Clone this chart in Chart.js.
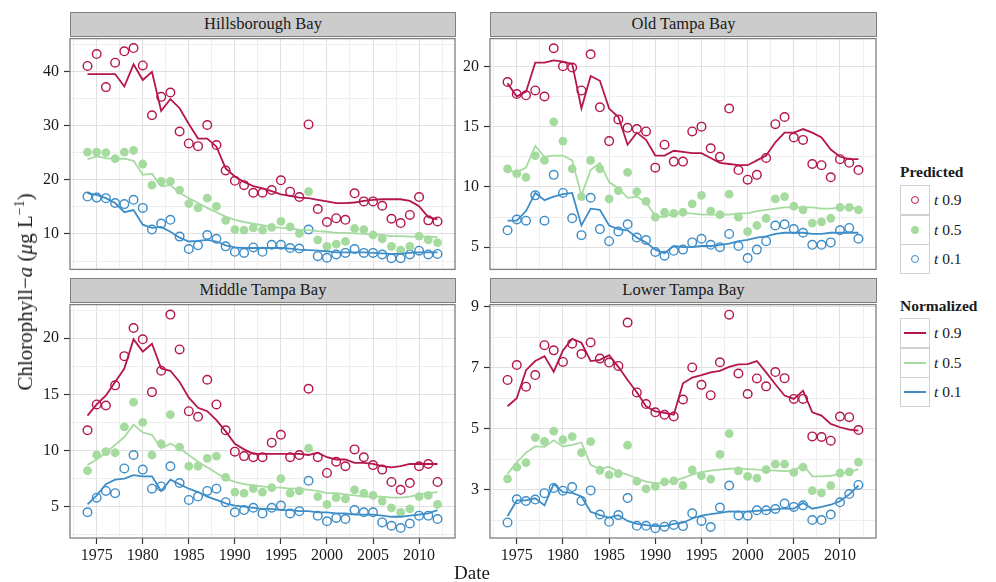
<!DOCTYPE html>
<html>
<head>
<meta charset="utf-8">
<script src="https://cdn.jsdelivr.net/npm/chart.js@4.4.1/dist/chart.umd.min.js"></script>
<style>
  body { margin: 0; background: #fff; font-family: "Liberation Serif", "Times New Roman", serif; color: #1a1a1a; }
  #wrap { position: relative; width: 996px; height: 582px; overflow: hidden; }
  canvas { position: absolute; }
  .strip { position: absolute; box-sizing: border-box; background: #cccccc; border: 1px solid #7f7f7f;
           text-align: center; font-size: 16.5px; line-height: 22px; z-index: 2; }
  .ttl { position: absolute; white-space: nowrap; z-index: 3; }
  .legTitle { position: absolute; left: 900px; font-weight: bold; font-size: 15.5px; }
  .key { position: absolute; left: 900px; width: 30px; height: 30px; box-sizing: border-box; border: 1px solid #d0d0d0; background: #fff; }
  .key .pt { position: absolute; left: 10px; top: 10px; width: 8px; height: 8px; box-sizing: border-box; border-radius: 50%; }
  .key .ln { position: absolute; left: 3px; top: 13px; width: 22px; height: 2px; }
  .lab { position: absolute; left: 934px; font-size: 15.5px; line-height: 30px; }
</style>
</head>
<body>
<div id="wrap">
  <canvas id="hb" width="443" height="260" style="left:20px;top:24px"></canvas>
  <canvas id="otb" width="444" height="260" style="left:440px;top:24px"></canvas>
  <canvas id="mtb" width="443" height="282" style="left:20px;top:290px"></canvas>
  <canvas id="ltb" width="444" height="282" style="left:440px;top:290px"></canvas>

  <div class="strip" style="left:70px;top:12px;width:386px;height:25px">Hillsborough Bay</div>
  <div class="strip" style="left:490px;top:12px;width:387px;height:25px">Old Tampa Bay</div>
  <div class="strip" style="left:70px;top:278px;width:386px;height:25px">Middle Tampa Bay</div>
  <div class="strip" style="left:490px;top:278px;width:387px;height:25px">Lower Tampa Bay</div>

  <div class="ttl" style="left:25px;top:292px;font-size:21px;transform:translate(-50%,-50%) rotate(-90deg)">Chlorophyll−<i>a</i> (<i>μ</i>g L<sup style="font-size:14px">−1</sup>)</div>
  <div class="ttl" style="left:472px;top:573px;font-size:19px;transform:translate(-50%,-50%)">Date</div>

  <div id="legend"></div>
</div>

<script>
const years = [];
for (let y = 1974; y <= 2012; y++) years.push(y);

const xTicks = [1975, 1980, 1985, 1990, 1995, 2000, 2005, 2010];
const xMinor = [1972.5, 1977.5, 1982.5, 1987.5, 1992.5, 1997.5, 2002.5, 2007.5, 2012.5];

const colors = { t90: '#b5144f', t50: '#a6dba0', t10: '#3d8dc8' };
const legendLabels = ['0.9', '0.5', '0.1'];

// Hillsborough Bay
const hbPred90 = [41.0, 43.2, 37.1, 41.6, 43.7, 44.3, 41.1, 31.9, 35.3, 36.1, 28.9, 26.7, 26.2, 30.1, 26.4, 21.7, 19.8, 19.0, 17.6, 17.6, 18.1, 19.9, 17.8, 16.8, 30.2, 14.6, 12.2, 12.9, 12.6, 17.5, 16.0, 16.0, 15.2, 12.8, 12.0, 13.5, 16.8, 12.5, 12.3];
const hbPred50 = [25.1, 25.1, 25.0, 23.9, 25.1, 25.4, 22.9, 19.0, 19.7, 19.7, 18.1, 15.6, 14.8, 16.6, 15.1, 12.5, 10.8, 10.7, 11.1, 10.7, 11.2, 12.3, 11.3, 10.1, 17.8, 8.9, 7.7, 8.1, 8.6, 11.0, 10.8, 9.8, 9.1, 7.7, 7.0, 7.7, 9.6, 8.9, 8.4];
const hbPred10 = [16.9, 16.7, 16.6, 15.7, 15.5, 16.3, 14.8, 10.8, 11.9, 12.6, 9.5, 7.2, 7.9, 9.8, 9.1, 7.7, 6.7, 6.5, 7.5, 6.7, 8.0, 8.0, 7.4, 7.3, 10.8, 5.9, 5.6, 6.2, 6.5, 7.2, 6.5, 6.5, 6.2, 5.5, 5.5, 6.2, 6.9, 6.2, 6.3];
const hbNorm90 = [39.5, 39.5, 39.5, 39.5, 37.2, 41.3, 38.4, 39.9, 32.7, 34.9, 33.2, 30.3, 27.6, 27.6, 26.1, 22.1, 20.6, 19.6, 18.8, 18.4, 17.9, 17.3, 17.0, 16.7, 16.6, 16.3, 16.0, 15.7, 15.7, 15.8, 16.1, 16.3, 16.4, 16.4, 16.4, 16.1, 15.1, 13.1, 12.7];
const hbNorm50 = [23.8, 24.3, 24.0, 23.8, 23.9, 23.5, 20.9, 21.1, 18.8, 19.0, 17.6, 16.6, 15.7, 14.8, 14.0, 13.2, 12.6, 12.2, 11.9, 11.6, 11.3, 11.1, 11.0, 10.8, 10.7, 10.5, 10.4, 10.2, 10.2, 10.1, 10.0, 9.9, 9.8, 9.6, 9.6, 9.5, 9.5, 9.5, 9.4];
const hbNorm10 = [17.5, 17.2, 16.6, 15.7, 14.0, 14.4, 11.7, 11.1, 11.3, 10.4, 9.3, 8.6, 8.7, 8.9, 8.6, 7.9, 7.5, 7.4, 7.4, 7.4, 7.4, 7.4, 7.3, 7.1, 7.0, 6.9, 6.8, 6.6, 6.6, 6.6, 6.6, 6.5, 6.4, 6.3, 6.3, 6.5, 6.6, 6.6, 6.6];

// Old Tampa Bay
const otbPred90 = [18.7, 17.7, 17.6, 18.0, 17.5, 21.5, 20.0, 19.9, 18.0, 21.0, 16.6, 13.8, 15.6, 14.9, 14.8, 14.6, 11.6, 13.5, 12.1, 12.1, 14.6, 15.0, 13.2, 12.5, 16.5, 11.4, 10.6, 11.0, 12.4, 15.2, 15.8, 14.1, 13.9, 11.9, 11.8, 10.8, 12.3, 12.0, 11.4];
const otbPred50 = [11.5, 11.1, 10.8, 12.6, 12.2, 15.4, 13.8, 11.5, 9.2, 12.2, 11.5, 9.0, 9.7, 11.2, 9.6, 8.8, 7.5, 7.9, 7.8, 7.9, 8.6, 9.3, 8.0, 7.7, 9.4, 7.5, 6.3, 6.8, 7.4, 9.0, 9.2, 8.4, 8.1, 7.0, 7.1, 7.4, 8.3, 8.3, 8.1];
const otbPred10 = [6.4, 7.3, 7.2, 9.3, 7.2, 11.0, 9.5, 7.4, 6.0, 9.1, 6.5, 5.5, 6.3, 6.9, 5.8, 5.6, 4.6, 4.3, 4.7, 4.8, 5.4, 5.7, 5.2, 5.0, 6.1, 5.1, 4.1, 4.8, 5.5, 6.8, 6.9, 6.5, 6.2, 5.2, 5.2, 5.4, 6.4, 6.6, 5.7];
const otbNorm90 = [18.6, 17.5, 17.9, 20.3, 20.3, 20.5, 20.4, 20.2, 16.5, 19.2, 18.8, 16.5, 15.8, 13.5, 14.5, 13.9, 12.6, 12.6, 13.0, 12.9, 12.8, 12.8, 12.4, 12.0, 11.9, 11.8, 11.8, 12.2, 12.6, 13.7, 14.5, 14.5, 14.8, 14.5, 14.1, 13.1, 12.5, 12.3, 12.3];
const otbNorm50 = [11.4, 11.2, 11.6, 13.4, 12.5, 12.6, 12.6, 12.2, 9.3, 11.4, 12.0, 10.4, 9.9, 9.1, 9.2, 8.7, 7.6, 7.5, 7.8, 7.8, 7.8, 7.7, 7.7, 7.7, 7.7, 7.8, 7.8, 8.0, 8.1, 8.2, 8.3, 8.3, 8.3, 8.3, 8.2, 8.2, 8.3, 8.3, 8.2];
const otbNorm10 = [7.2, 7.2, 8.0, 9.5, 8.9, 9.2, 9.4, 9.5, 6.8, 8.2, 8.1, 6.8, 6.5, 6.4, 5.8, 5.4, 4.8, 4.5, 5.1, 5.0, 5.0, 5.1, 5.1, 5.2, 5.3, 5.5, 5.6, 5.8, 5.9, 6.1, 6.2, 6.2, 6.2, 6.1, 6.1, 6.2, 6.2, 6.2, 6.2];

// Middle Tampa Bay
const mtbPred90 = [11.8, 14.1, 14.0, 15.8, 18.4, 20.9, 19.9, 15.2, 17.1, 22.1, 19.0, 13.5, 13.0, 16.3, 14.1, 11.8, 9.9, 9.5, 9.4, 9.4, 10.7, 11.4, 9.4, 9.6, 15.5, 9.4, 8.0, 9.0, 8.6, 10.1, 9.4, 8.7, 8.3, 7.2, 6.5, 7.1, 8.6, 8.8, 7.2];
const mtbPred50 = [8.2, 9.6, 9.9, 9.8, 12.1, 14.3, 12.5, 9.6, 10.6, 13.2, 10.3, 8.6, 8.6, 9.3, 9.5, 7.6, 6.3, 6.2, 6.6, 6.3, 6.7, 7.5, 6.2, 6.4, 10.2, 5.9, 5.2, 5.8, 5.7, 6.5, 6.2, 6.0, 5.5, 4.9, 4.5, 4.8, 5.9, 6.0, 5.2];
const mtbPred10 = [4.5, 5.8, 6.4, 6.2, 8.4, 9.6, 8.3, 6.6, 6.8, 8.6, 7.1, 5.6, 5.9, 6.4, 6.6, 5.4, 4.5, 4.7, 4.9, 4.4, 4.9, 5.1, 4.4, 4.6, 7.3, 4.2, 3.7, 4.0, 3.9, 4.7, 4.5, 4.5, 3.6, 3.3, 3.1, 3.5, 4.2, 4.2, 3.9];
const mtbNorm90 = [13.1, 14.1, 14.9, 16.1, 17.3, 19.9, 18.8, 19.5, 17.3, 17.1, 16.1, 14.7, 13.8, 13.5, 12.7, 11.7, 10.6, 10.1, 9.7, 9.7, 9.7, 9.7, 9.7, 9.7, 9.6, 9.8, 9.4, 9.2, 9.2, 8.9, 8.9, 8.8, 8.6, 8.5, 8.6, 8.8, 8.8, 8.8, 8.8];
const mtbNorm50 = [8.7, 9.2, 9.8, 10.5, 11.2, 12.3, 11.6, 11.4, 10.2, 10.6, 10.2, 9.6, 9.0, 8.5, 8.0, 7.5, 7.2, 7.0, 6.9, 6.8, 6.7, 6.7, 6.6, 6.6, 6.5, 6.4, 6.2, 6.2, 6.1, 6.0, 5.9, 5.9, 5.9, 5.8, 5.8, 5.9, 6.1, 6.2, 6.3];
const mtbNorm10 = [5.2, 6.0, 7.0, 7.4, 7.5, 7.8, 7.7, 7.7, 6.4, 7.4, 7.0, 6.6, 6.3, 5.9, 5.6, 5.3, 5.1, 5.0, 4.9, 4.8, 4.8, 4.7, 4.7, 4.6, 4.6, 4.5, 4.5, 4.4, 4.4, 4.3, 4.3, 4.3, 4.2, 4.1, 4.1, 4.2, 4.3, 4.4, 4.7];

// Lower Tampa Bay
const ltbPred90 = [6.60, 7.09, 6.38, 6.76, 7.74, 7.57, 7.19, 7.79, 7.45, 7.83, 7.30, 7.17, 7.06, 8.48, 6.19, 5.81, 5.54, 5.46, 5.40, 5.96, 7.01, 6.44, 6.10, 7.18, 8.74, 6.81, 6.14, 6.65, 6.39, 6.86, 6.66, 5.98, 5.98, 4.75, 4.73, 4.61, 5.40, 5.38, 4.96];
const ltbPred50 = [3.36, 3.74, 3.89, 4.71, 4.59, 4.92, 4.64, 4.74, 4.22, 4.58, 3.64, 3.49, 3.53, 4.46, 3.28, 3.03, 3.11, 3.26, 3.29, 3.14, 3.65, 3.46, 3.35, 4.16, 4.84, 3.62, 3.44, 3.38, 3.66, 3.84, 3.84, 3.57, 3.74, 2.97, 2.90, 3.14, 3.55, 3.59, 3.91];
const ltbPred10 = [1.93, 2.69, 2.63, 2.68, 2.89, 3.06, 2.97, 3.09, 2.63, 2.98, 2.19, 1.95, 2.17, 2.73, 1.82, 1.82, 1.74, 1.79, 1.85, 1.81, 2.23, 1.98, 1.78, 2.42, 3.14, 2.16, 2.15, 2.33, 2.33, 2.37, 2.55, 2.44, 2.49, 2.01, 2.01, 2.19, 2.59, 2.86, 3.16];
const ltbNorm90 = [5.74, 6.00, 6.92, 7.22, 7.38, 6.87, 7.57, 7.95, 7.82, 7.22, 7.26, 7.41, 7.03, 6.60, 6.20, 5.74, 5.57, 5.52, 5.46, 6.49, 6.68, 6.76, 6.85, 6.90, 7.03, 7.11, 7.12, 7.22, 6.85, 6.46, 6.09, 5.98, 6.25, 5.54, 5.43, 5.16, 5.05, 4.97, 4.94];
const ltbNorm50 = [3.52, 3.90, 4.22, 4.42, 4.41, 4.62, 4.42, 4.47, 4.55, 3.82, 3.68, 3.76, 3.59, 3.50, 3.37, 3.27, 3.22, 3.22, 3.30, 3.38, 3.50, 3.58, 3.63, 3.66, 3.69, 3.70, 3.68, 3.66, 3.65, 3.63, 3.61, 3.63, 3.82, 3.44, 3.44, 3.46, 3.52, 3.57, 3.68];
const ltbNorm10 = [2.14, 2.65, 2.65, 2.72, 2.49, 3.19, 2.92, 2.90, 2.78, 2.28, 2.17, 2.09, 2.17, 1.98, 1.88, 1.84, 1.81, 1.81, 1.88, 1.92, 2.06, 2.15, 2.20, 2.24, 2.29, 2.28, 2.29, 2.31, 2.33, 2.36, 2.39, 2.38, 2.57, 2.38, 2.44, 2.51, 2.63, 2.85, 3.14];

// y ticks per panel
const hbTicks = [10, 20, 30, 40], hbMinor = [5, 15, 25, 35, 45];
const otbTicks = [5, 10, 15, 20], otbMinor = [7.5, 12.5, 17.5];
const mtbTicks = [5, 10, 15, 20], mtbMinor = [2.5, 7.5, 12.5, 17.5, 22.5];
const ltbTicks = [3, 5, 7, 9], ltbMinor = [2, 4, 6, 8];

const tickFont = { family: '"Liberation Serif", "Times New Roman", serif', size: 16 };

const panelBorder = {
  id: 'panelBorder',
  afterDraw(chart) {
    const { ctx, chartArea: a } = chart;
    ctx.save();
    ctx.strokeStyle = '#7f7f7f';
    ctx.lineWidth = 1.3;
    ctx.strokeRect(a.left, a.top, a.right - a.left, a.bottom - a.top);
    ctx.restore();
  }
};

function setTicks(major, minor) {
  return scale => {
    scale.ticks = major.concat(minor).sort((a, b) => a - b).map(v => ({ value: v }));
  };
}

function gridColor(major) {
  return ctx => (ctx.tick && major.includes(ctx.tick.value)) ? '#e0e0e0' : '#eeeeee';
}

function tickColor(major) {
  return ctx => (ctx.tick && major.includes(ctx.tick.value)) ? '#333333' : 'rgba(0,0,0,0)';
}

function pts(values) {
  return values.map((v, i) => ({ x: years[i], y: v }));
}

function makePanel(id, yMin, yMax, yMajor, yMinor, s, showX) {
  const datasets = [
    { data: pts(s[3]), showLine: true, borderColor: colors.t90, borderWidth: 1.8, pointRadius: 0 },
    { data: pts(s[4]), showLine: true, borderColor: colors.t50, borderWidth: 1.8, pointRadius: 0 },
    { data: pts(s[5]), showLine: true, borderColor: colors.t10, borderWidth: 1.8, pointRadius: 0 },
    { data: pts(s[0]), pointRadius: 4.3, borderWidth: 1.4, borderColor: colors.t90, backgroundColor: 'rgba(0,0,0,0)' },
    { data: pts(s[1]), pointRadius: 4.4, borderWidth: 0, borderColor: colors.t50, backgroundColor: colors.t50 },
    { data: pts(s[2]), pointRadius: 4.3, borderWidth: 1.4, borderColor: colors.t10, backgroundColor: 'rgba(0,0,0,0)' }
  ];
  new Chart(document.getElementById(id), {
    type: 'scatter',
    data: { datasets: datasets },
    options: {
      responsive: false,
      animation: false,
      devicePixelRatio: 1,
      layout: { padding: { top: 12, right: 8, bottom: 4, left: 0 } },
      plugins: { legend: { display: false }, tooltip: { enabled: false } },
      scales: {
        x: {
          type: 'linear',
          min: 1972.1,
          max: 2013.9,
          afterBuildTicks: setTicks(xTicks, xMinor),
          afterFit: sc => { sc.height = showX ? 30 : 8; },
          border: { display: false },
          grid: { color: gridColor(xTicks), lineWidth: 1, drawTicks: showX, tickLength: 6, tickColor: tickColor(xTicks), tickWidth: 1.2 },
          ticks: {
            display: showX, autoSkip: false, maxRotation: 0, minRotation: 0, padding: 2,
            color: '#1a1a1a', font: tickFont,
            callback: v => xTicks.includes(v) ? String(v) : ''
          }
        },
        y: {
          type: 'linear',
          min: yMin,
          max: yMax,
          afterBuildTicks: setTicks(yMajor, yMinor),
          afterFit: sc => { sc.width = 50; },
          border: { display: false },
          grid: { color: gridColor(yMajor), lineWidth: 1, tickLength: 6, tickColor: tickColor(yMajor), tickWidth: 1.2 },
          ticks: {
            autoSkip: false, padding: 5, color: '#1a1a1a', font: tickFont,
            callback: v => yMajor.includes(v) ? String(v) : ''
          }
        }
      }
    },
    plugins: [panelBorder]
  });
}

makePanel('hb', 3.45, 46.05, hbTicks, hbMinor, [hbPred90, hbPred50, hbPred10, hbNorm90, hbNorm50, hbNorm10], false);
makePanel('otb', 3.16, 22.3, otbTicks, otbMinor, [otbPred90, otbPred50, otbPred10, otbNorm90, otbNorm50, otbNorm10], false);
makePanel('mtb', 2.21, 22.99, mtbTicks, mtbMinor, [mtbPred90, mtbPred50, mtbPred10, mtbNorm90, mtbNorm50, mtbNorm10], true);
makePanel('ltb', 1.42, 9.07, ltbTicks, ltbMinor, [ltbPred90, ltbPred50, ltbPred10, ltbNorm90, ltbNorm50, ltbNorm10], true);

// legend
const keyColors = [colors.t90, colors.t50, colors.t10];
let html = '<div class="legTitle" style="top:163px">Predicted</div>';
keyColors.forEach((c, i) => {
  const top = 185 + i * 29.5;
  const filled = i === 1;
  html += '<div class="key" style="top:' + top + 'px"><div class="pt" style="' +
    (filled ? 'background:' + c + ';' : 'border:1.5px solid ' + c + ';') + '"></div></div>';
  html += '<div class="lab" style="top:' + top + 'px"><i>t</i> ' + legendLabels[i] + '</div>';
});
html += '<div class="legTitle" style="top:297px">Normalized</div>';
keyColors.forEach((c, i) => {
  const top = 318 + i * 29.5;
  html += '<div class="key" style="top:' + top + 'px"><div class="ln" style="background:' + c + '"></div></div>';
  html += '<div class="lab" style="top:' + top + 'px"><i>t</i> ' + legendLabels[i] + '</div>';
});
document.getElementById('legend').innerHTML = html;
</script>
</body>
</html>
